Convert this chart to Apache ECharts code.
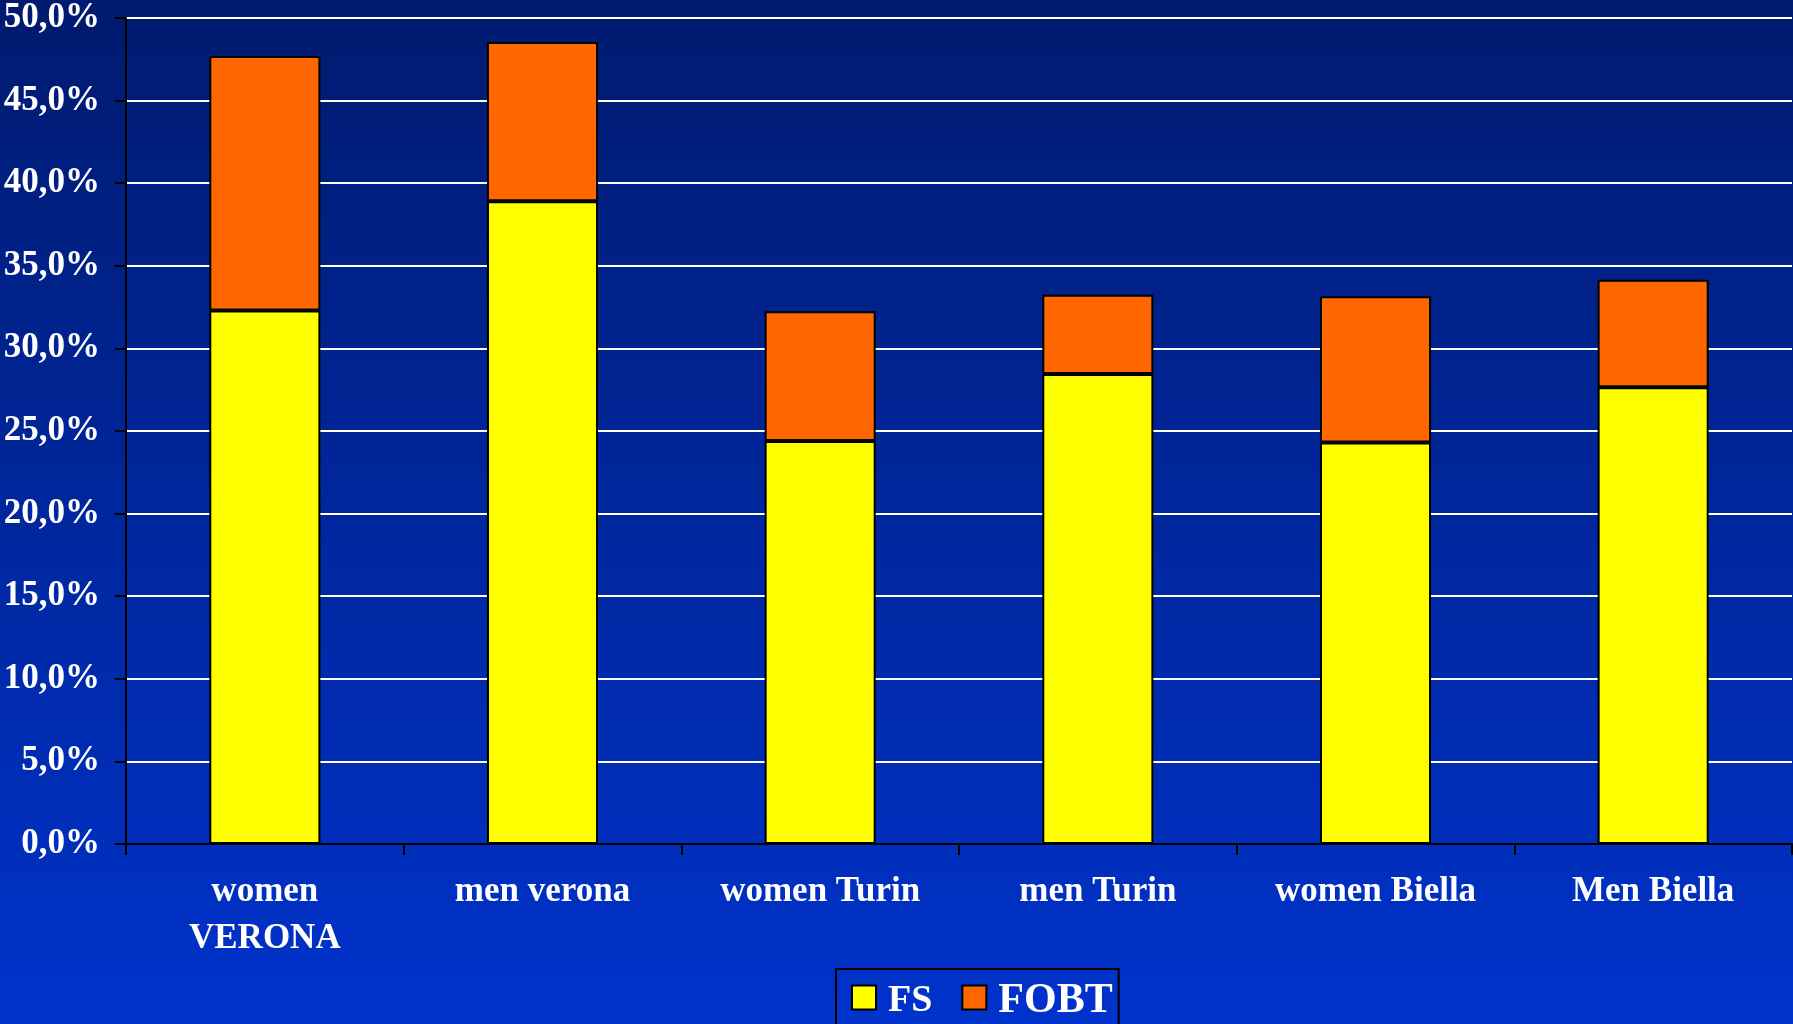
<!DOCTYPE html>
<html>
<head>
<meta charset="utf-8">
<script src="https://cdn.jsdelivr.net/npm/echarts@6/dist/echarts.min.js"></script>
<style>
html,body{margin:0;padding:0;background:#0026a0;}
#chart{width:1793px;height:1024px;}
</style>
</head>
<body>
<div id="chart"></div>
<script>
const categories = ['women\nVERONA', 'men verona', 'women Turin', 'men Turin', 'women Biella', 'Men Biella'];
const fsValues = [32.3, 38.9, 24.4, 28.45, 24.3, 27.65];
const fobtValues = [15.4, 9.65, 7.85, 4.8, 8.85, 6.5];
const seriesNames = ['FS', 'FOBT'];
const yMin = 0, yMax = 50, yInterval = 5;

const FONT = '"Liberation Serif", "Times New Roman", serif';
const chart = echarts.init(document.getElementById('chart'));
chart.setOption({
  animation: false,
  backgroundColor: {
    type: 'linear', x: 0, y: 0, x2: 0, y2: 1,
    colorStops: [{offset: 0, color: '#001a6e'}, {offset: 1, color: '#0033cc'}]
  },
  grid: {left: 126, right: 1, top: 18, bottom: 180, containLabel: false, outerBoundsMode: 'none'},
  legend: {
    left: 836, top: 969,
    padding: [4, 6, 4, 15],
    borderColor: '#000', borderWidth: 2,
    itemWidth: 24, itemHeight: 24, itemGap: 29,
    icon: 'rect',
    data: seriesNames,
    formatter: n => '{' + (n === 'FS' ? 'a' : 'b') + '|' + n + '}',
    textStyle: {
      color: '#fff', fontFamily: FONT, fontWeight: 'bold', lineHeight: 39,
      rich: {
        a: {fontSize: 38, fontFamily: FONT, fontWeight: 'bold', color: '#fff', lineHeight: 39, padding: [7, 0, 0, 7]},
        b: {fontSize: 42, fontFamily: FONT, fontWeight: 'bold', color: '#fff', lineHeight: 39, padding: [7, 0, 0, 7]}
      }
    }
  },
  xAxis: {
    type: 'category',
    data: categories,
    axisLine: {lineStyle: {color: '#000', width: 2}},
    axisTick: {show: true, length: 11, lineStyle: {color: '#000', width: 2}},
    axisLabel: {
      color: '#fff', fontFamily: FONT, fontWeight: 'bold', fontSize: 35,
      lineHeight: 47, margin: 24, interval: 0
    }
  },
  yAxis: {
    type: 'value', min: yMin, max: yMax, interval: yInterval,
    axisLine: {show: true, lineStyle: {color: '#000', width: 2}},
    axisTick: {show: true, length: 11, lineStyle: {color: '#000', width: 2}},
    splitLine: {show: true, lineStyle: {color: '#ffffff', width: 2}},
    axisLabel: {
      color: '#fff', fontFamily: FONT, fontWeight: 'bold', fontSize: 35, margin: 26,
      formatter: v => v.toFixed(1).replace('.', ',') + '%'
    }
  },
  series: [
    {
      name: seriesNames[0], type: 'bar', stack: 'total', data: fsValues, barWidth: '40%',
      itemStyle: {color: '#ffff00', borderColor: '#000', borderWidth: 2}
    },
    {
      name: seriesNames[1], type: 'bar', stack: 'total', data: fobtValues, barWidth: '40%',
      itemStyle: {color: '#ff6600', borderColor: '#000', borderWidth: 2}
    }
  ]
});
</script>
</body>
</html>
